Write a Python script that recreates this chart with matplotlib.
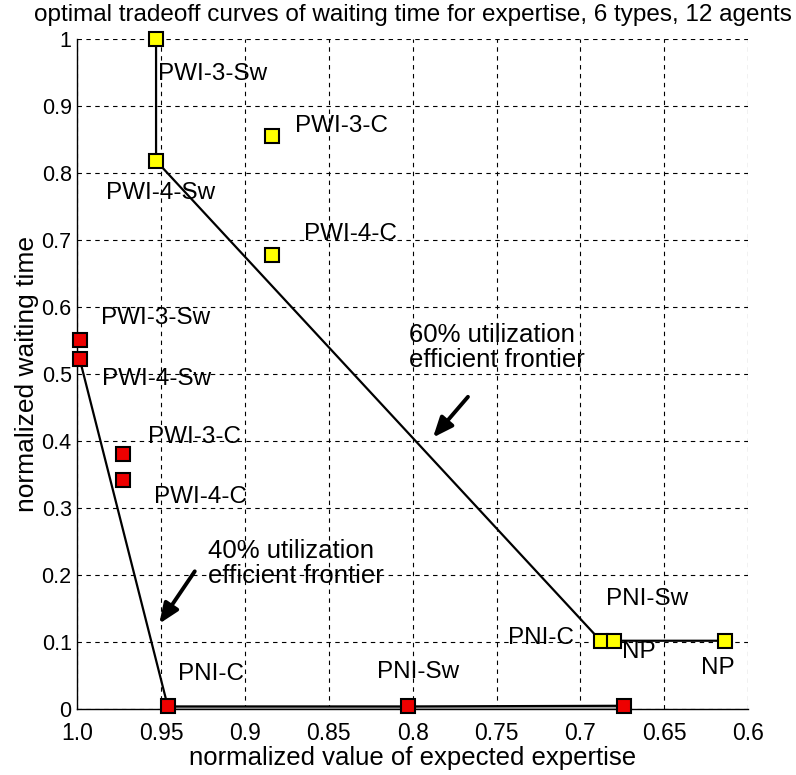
import matplotlib.pyplot as plt
import numpy as np

# 60% utilization (yellow)
y_names = ['PWI-3-Sw', 'PWI-4-Sw', 'PWI-3-C', 'PWI-4-C', 'PNI-C', 'PNI-Sw', 'NP']
y_expertise = [0.953, 0.953, 0.884, 0.884, 0.688, 0.680, 0.614]
y_wait = [1.0, 0.818, 0.855, 0.677, 0.102, 0.102, 0.102]
y_label_xy = [(0.952, 0.948), (0.983, 0.770), (0.870, 0.870), (0.865, 0.708),
              (0.743, 0.106), (0.685, 0.164), (0.628, 0.061)]
y_frontier = ['PWI-3-Sw', 'PWI-4-Sw', 'PNI-C', 'PNI-Sw', 'NP']

# 40% utilization (red)
r_names = ['PWI-3-Sw', 'PWI-4-Sw', 'PWI-3-C', 'PWI-4-C', 'PNI-C', 'PNI-Sw', 'NP']
r_expertise = [0.9985, 0.9985, 0.973, 0.973, 0.946, 0.803, 0.674]
r_wait = [0.551, 0.522, 0.381, 0.342, 0.004, 0.004, 0.005]
r_label_xy = [(0.986, 0.584), (0.985, 0.493), (0.958, 0.406), (0.954, 0.316),
              (0.940, 0.052), (0.821, 0.056), (0.675, 0.085)]
r_frontier = ['PWI-4-Sw', 'PNI-C', 'PNI-Sw', 'NP']

x_ticks = [1.0, 0.95, 0.9, 0.85, 0.8, 0.75, 0.7, 0.65, 0.6]
x_ticklabels = ['1.0', '0.95', '0.9', '0.85', '0.8', '0.75', '0.7', '0.65', '0.6']
y_ticks = [0, 0.1, 0.2, 0.3, 0.4, 0.5, 0.6, 0.7, 0.8, 0.9, 1.0]
y_ticklabels = ['0', '0.1', '0.2', '0.3', '0.4', '0.5', '0.6', '0.7', '0.8', '0.9', '1']

fam = ['Liberation Sans', 'DejaVu Sans']

fig = plt.figure(figsize=(7.96, 7.75), dpi=100)
ax = fig.add_axes([0.097, 0.085, 0.843, 0.865])
ax.set_xlim(1.0, 0.6)
ax.set_ylim(0, 1)

ax.grid(True, color='black', linestyle=(0, (4, 4)), linewidth=0.8)
ax.set_axisbelow(True)

def frontier(names, xs, ys, keep):
    idx = [names.index(k) for k in keep]
    return [xs[i] for i in idx], [ys[i] for i in idx]

fx, fy = frontier(y_names, y_expertise, y_wait, y_frontier)
ax.plot(fx, fy, color='black', lw=1.6, zorder=2)
fx, fy = frontier(r_names, r_expertise, r_wait, r_frontier)
ax.plot(fx, fy, color='black', lw=1.6, zorder=2)
# light fill between the bottom frontier and the axis
ax.fill_between(fx[1:], 0, fy[1:], color='#aaaaaa', zorder=1.5)

ax.plot(y_expertise, y_wait, 's', color='#ffff00', mec='black', mew=1.5,
        ms=10, ls='none', zorder=3, clip_on=False)
ax.plot(r_expertise, r_wait, 's', color='#ee0000', mec='black', mew=1.5,
        ms=10, ls='none', zorder=3, clip_on=False)

for name, (lx, ly) in zip(y_names, y_label_xy):
    ax.text(lx, ly, name, fontsize=17.5, family=fam, va='center', ha='left')
for name, (lx, ly) in zip(r_names, r_label_xy):
    ax.text(lx, ly, name, fontsize=17.5, family=fam, va='center', ha='left')

ax.annotate('', xy=(0.789, 0.402), xytext=(0.766, 0.469),
            arrowprops=dict(arrowstyle='-|>,head_length=1.2,head_width=0.5',
                            color='black', lw=2.8))
ax.text(0.802, 0.540, '60% utilization\nefficient frontier', fontsize=18.5,
        family=fam, va='center', ha='left', linespacing=1.05)
ax.annotate('', xy=(0.952, 0.124), xytext=(0.929, 0.209),
            arrowprops=dict(arrowstyle='-|>,head_length=1.2,head_width=0.5',
                            color='black', lw=2.8))
ax.text(0.922, 0.217, '40% utilization\nefficient frontier', fontsize=18.5,
        family=fam, va='center', ha='left', linespacing=1.05)

ax.set_xticks(x_ticks)
ax.set_xticklabels(x_ticklabels, family=fam, fontsize=16.5)
ax.set_yticks(y_ticks)
ax.set_yticklabels(y_ticklabels, family=fam, fontsize=15.5)
ax.tick_params(direction='in', length=0, pad=4)
ax.tick_params(axis='x', pad=9)
for s in ax.spines.values():
    s.set_linewidth(1.0)
ax.spines['top'].set_visible(False)
ax.spines['right'].set_visible(False)

ax.set_xlabel('normalized value of expected expertise', family=fam, fontsize=18.5, labelpad=1)
ax.set_ylabel('normalized waiting time', family=fam, fontsize=19, labelpad=2)
ax.set_title('optimal tradeoff curves of waiting time for expertise, 6 types, 12 agents',
             family=fam, fontsize=17.5, pad=13)

fig.savefig('out.png', dpi=100)
